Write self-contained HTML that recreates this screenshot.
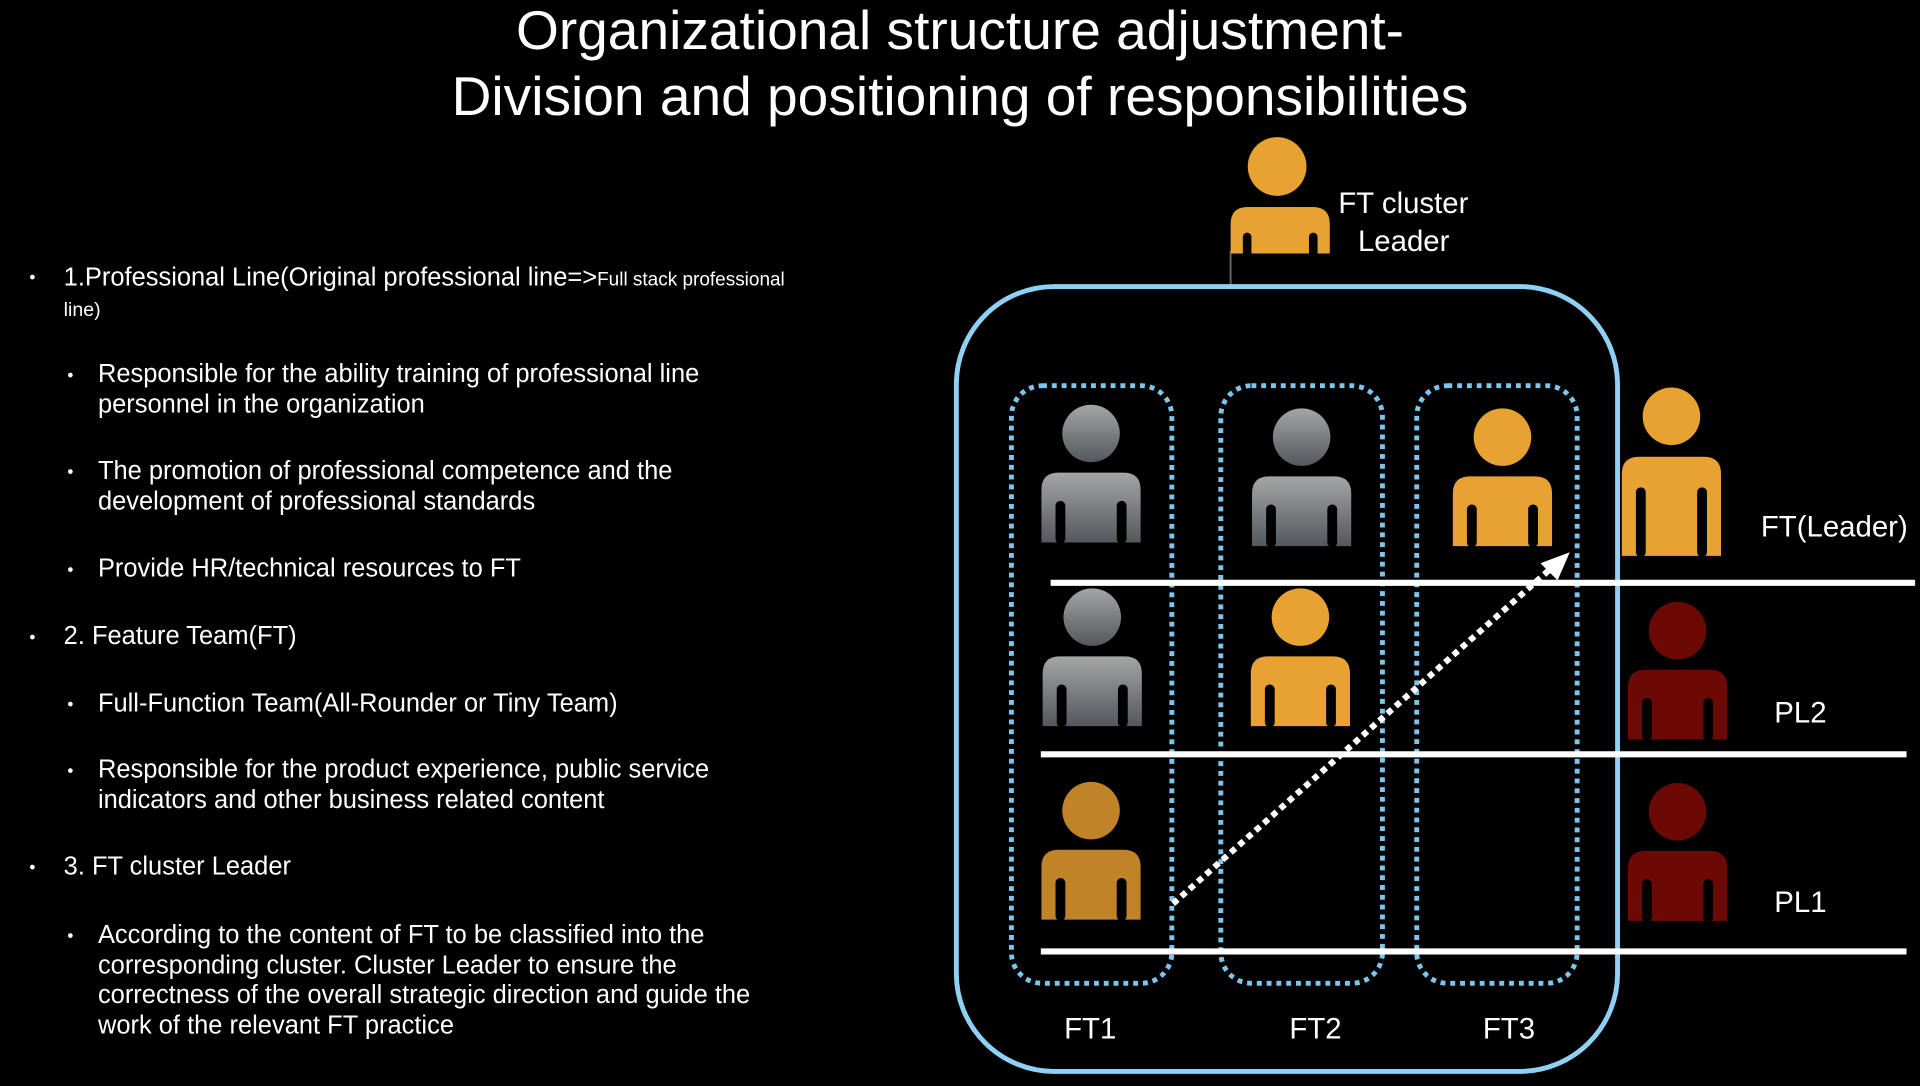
<!DOCTYPE html>
<html><head><meta charset="utf-8"><style>
html,body{margin:0;padding:0;background:#000;overflow:hidden;width:1920px;height:1080px}
#c{position:absolute;left:0;top:0;width:1568px;height:882px;transform:scale(1.22449);transform-origin:0 0;font-family:"Liberation Sans",sans-serif;color:#fff}
</style></head><body><div id="c">
<svg width="1568" height="882" viewBox="0 0 1568 882" xmlns="http://www.w3.org/2000/svg" font-family="Liberation Sans, sans-serif" fill="#fff">
<defs>
<linearGradient id="g" x1="0" y1="0" x2="0" y2="1"><stop offset="0" stop-color="#a4a6a5"/><stop offset="1" stop-color="#54575c"/></linearGradient>
<g id="per">
<circle cx="0" cy="0" r="23.5"/>
<path d="M-40.5,89 V46 Q-40.5,32 -26.5,32 H26.5 Q40.5,32 40.5,46 V89 Z"/>
</g>
<g id="sl">
<rect x="-29" y="55" width="8" height="35" rx="4"/><rect x="21" y="55" width="8" height="35" rx="4"/>
</g>
</defs>
<text x="784" y="40" font-size="45" text-anchor="middle">Organizational structure adjustment-</text>
<text x="784" y="94" font-size="45" text-anchor="middle">Division and positioning  of responsibilities</text>

<g font-size="20.8">
<text x="24" y="231" font-size="14">•</text>
<text x="52" y="233">1.Professional Line(Original professional line=&gt;<tspan font-size="15.5">Full stack professional</tspan></text>
<text x="52" y="258" font-size="16">line)</text>
<text x="55" y="311" font-size="14">•</text><text x="80" y="312">Responsible for the ability  training of professional line</text>
<text x="80" y="337">personnel in the organization</text>
<text x="55" y="390" font-size="14">•</text><text x="80" y="391">The promotion of professional competence and the</text>
<text x="80" y="416">development of professional standards</text>
<text x="55" y="470" font-size="14">•</text><text x="80" y="471">Provide HR/technical resources to FT</text>
<text x="24" y="525" font-size="14">•</text><text x="52" y="526">2. Feature Team(FT)</text>
<text x="55" y="580" font-size="14">•</text><text x="80" y="581">Full-Function Team(All-Rounder or Tiny Team)</text>
<text x="55" y="634" font-size="14">•</text><text x="80" y="635">Responsible for the product experience, public service</text>
<text x="80" y="660">indicators and other business related content</text>
<text x="24" y="713" font-size="14">•</text><text x="52" y="714">3. FT cluster Leader</text>
<text x="55" y="769" font-size="14">•</text><text x="80" y="770">According to the  content of FT to be classified into the</text>
<text x="80" y="795">corresponding cluster. Cluster Leader to ensure the</text>
<text x="80" y="819">correctness of the overall strategic direction and guide the</text>
<text x="80" y="844">work of the relevant FT practice</text>
</g>

<line x1="1005" y1="205" x2="1005" y2="234" stroke="#666" stroke-width="1.5"/>
<rect x="781" y="234" width="540" height="641" rx="80" fill="none" stroke="#8fd0f5" stroke-width="4"/>
<g fill="none" stroke="#7cc5ee" stroke-width="4" stroke-dasharray="4 4">
<rect x="826" y="315" width="131" height="488" rx="25"/>
<rect x="997" y="315" width="132" height="488" rx="25"/>
<rect x="1157" y="315" width="131" height="488" rx="25"/>
</g>
<g stroke="#fff" stroke-width="5">
<line x1="858" y1="476" x2="1564" y2="476"/>
<line x1="850" y1="616" x2="1557" y2="616"/>
<line x1="850" y1="777" x2="1557" y2="777"/>
</g>
<line x1="958" y1="738" x2="1268" y2="463" stroke="#fff" stroke-width="5" stroke-dasharray="5 4"/>
<polygon points="1282,451 1258,460 1272,474" fill="#fff"/>

<!-- cluster leader -->
<g fill="#e8a232">
<circle cx="1043" cy="136" r="24"/>
<path d="M1005,207 V183 Q1005,169 1019,169 H1072 Q1086,169 1086,183 V207 Z"/>
</g>
<g fill="#000"><rect x="1015" y="190" width="7" height="20" rx="3.5"/><rect x="1069" y="190" width="7" height="20" rx="3.5"/></g>

<use href="#per" x="891" y="354" fill="url(#g)"/>
<use href="#per" x="1063" y="357" fill="url(#g)"/>
<use href="#per" x="1227" y="357" fill="#e8a232"/>
<use href="#per" x="892" y="504" fill="url(#g)"/>
<use href="#per" x="1062" y="504" fill="#e8a232"/>
<use href="#per" x="891" y="662" fill="#c08328"/>
<use href="#per" x="1370" y="515" fill="#6b0a05"/>
<use href="#per" x="1370" y="663" fill="#6b0a05"/>
<g fill="#e8a232">
<circle cx="1365" cy="340" r="23.5"/>
<path d="M1324.5,454 V387 Q1324.5,373 1338.5,373 H1391.5 Q1405.5,373 1405.5,387 V454 Z"/>
</g>
<g fill="#000">
<use href="#sl" x="891" y="354"/>
<use href="#sl" x="1063" y="357"/>
<use href="#sl" x="1227" y="357"/>
<use href="#sl" x="892" y="504"/>
<use href="#sl" x="1062" y="504"/>
<use href="#sl" x="891" y="662"/>
<use href="#sl" x="1370" y="515"/>
<use href="#sl" x="1370" y="663"/>
<rect x="1336" y="398" width="8" height="57" rx="4"/><rect x="1386" y="398" width="8" height="57" rx="4"/>
</g>

<g font-size="24">
<text x="1093" y="174">FT cluster</text>
<text x="1109" y="205">Leader</text>
<text x="1438" y="438">FT(Leader)</text>
<text x="1449" y="590">PL2</text>
<text x="1449" y="745">PL1</text>
<text x="869" y="848">FT1</text>
<text x="1053" y="848">FT2</text>
<text x="1211" y="848">FT3</text>
</g>
</svg>
</div></body></html>
